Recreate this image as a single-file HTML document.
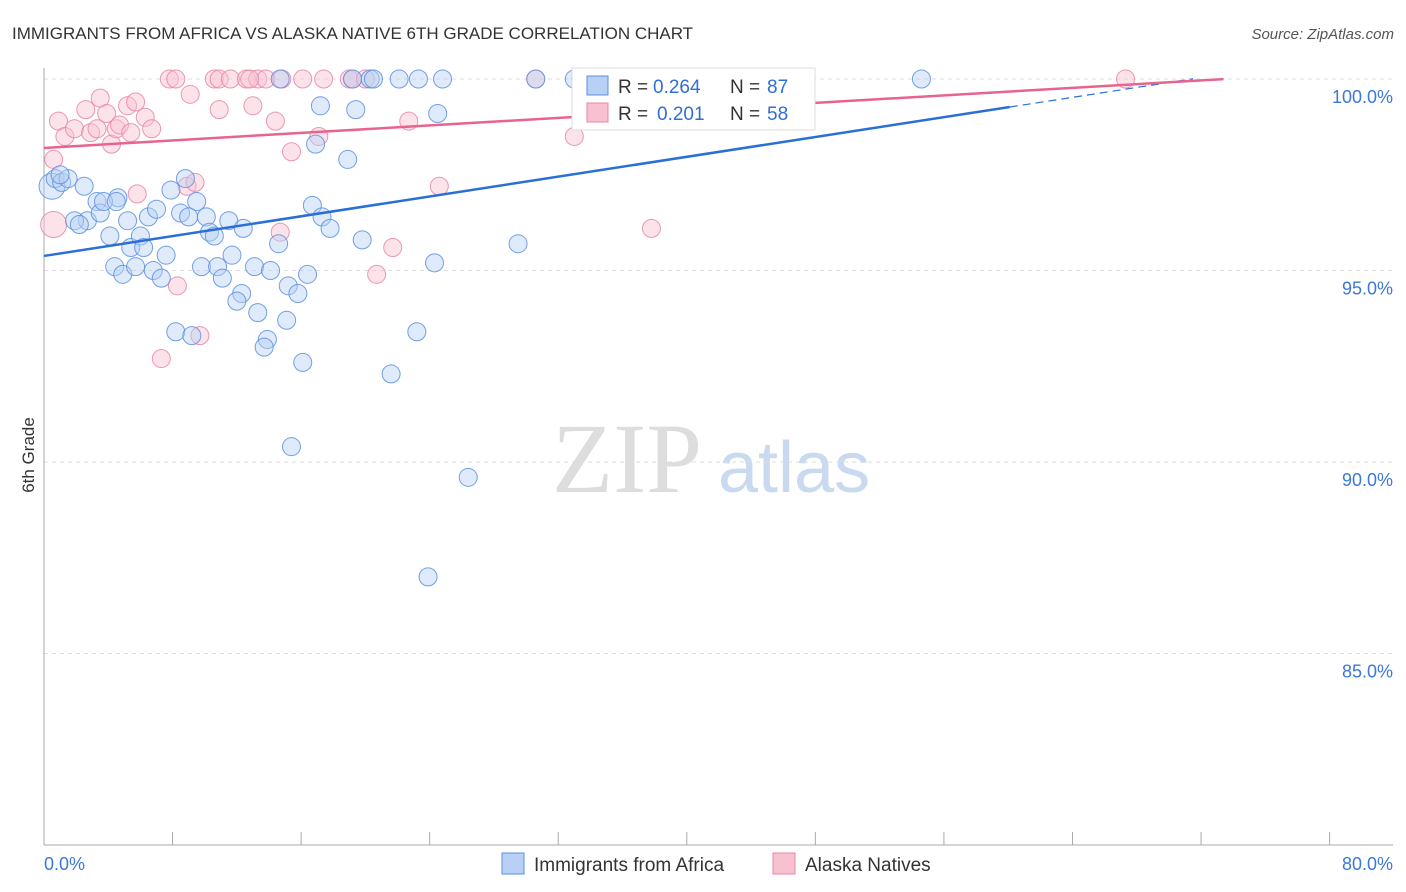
<!DOCTYPE html>
<html><head><meta charset="utf-8"><style>
body{margin:0;background:#fff;font-family:"Liberation Sans",sans-serif}
svg{display:block}
</style></head><body>
<svg id="c" width="1406" height="892">
<text x="12" y="39" font-size="17" fill="#333">IMMIGRANTS FROM AFRICA VS ALASKA NATIVE 6TH GRADE CORRELATION CHART</text>
<text x="1394" y="39" font-size="15" fill="#555" text-anchor="end" font-style="italic">Source: ZipAtlas.com</text>
<text x="34" y="455" font-size="17" fill="#333" transform="rotate(-90 34 455)" text-anchor="middle">6th Grade</text>
<g><text x="552" y="492" font-size="100" fill="#ddd" font-family="Liberation Serif,serif">ZIP</text><text x="718" y="492" font-size="72" fill="#c9d9f0">atlas</text></g>
<g id="grid"></g><g id="marks"></g><g id="lines"></g>
<g>
<rect x="572" y="68" width="243" height="62" fill="#fff" stroke="#ddd"/>
<rect x="587" y="76" width="21" height="19" fill="#b8d0f3" stroke="#5a8fe0"/>
<text x="618" y="93" font-size="19" fill="#333">R =</text><text x="653" y="93" font-size="19" fill="#2f6fd6">0.264</text>
<text x="730" y="93" font-size="19" fill="#333">N =</text><text x="767" y="93" font-size="19" fill="#2f6fd6">87</text>
<rect x="587" y="103" width="21" height="19" fill="#f8c1d0" stroke="#e886a4"/>
<text x="618" y="120" font-size="19" fill="#333">R =</text><text x="657" y="120" font-size="19" fill="#2f6fd6">0.201</text>
<text x="730" y="120" font-size="19" fill="#333">N =</text><text x="767" y="120" font-size="19" fill="#2f6fd6">58</text>
</g>
<g>
<rect x="502" y="853" width="22" height="21" fill="#b8d0f3" stroke="#5a8fe0"/>
<text x="534" y="871" font-size="19" fill="#333">Immigrants from Africa</text>
<rect x="773" y="853" width="22" height="21" fill="#f8c1d0" stroke="#e886a4"/>
<text x="805" y="871" font-size="19" fill="#333">Alaska Natives</text>
</g>
</svg>
<script>
const yTicks=[100,95,90,85];
const xTickVals=[0,8,16,24,32,40,48,56,64,72,80];
const blueX=[0.5,0.7,1.1,1.5,1.0,2.5,3.3,4.6,2.7,1.9,2.2,3.5,3.7,4.5,4.1,5.2,5.4,6.0,6.2,6.5,7.0,7.9,8.8,8.5,9.5,9.0,10.1,10.3,10.6,11.5,12.4,4.4,4.9,5.7,6.8,7.3,7.6,9.8,10.8,11.1,11.7,13.1,14.1,12.3,12.0,13.3,15.1,13.9,13.7,15.2,15.8,16.4,16.1,14.6,16.7,17.3,17.8,16.9,18.9,17.2,19.4,19.8,21.6,23.2,24.3,24.5,29.5,26.4,15.4,23.9,8.2,9.2,14.7,19.2,20.3,20.5,22.1,23.3,24.8,30.6,33.0,33.4,36.0,54.6];
const blueY=[97.2,97.4,97.3,97.4,97.5,97.2,96.8,96.9,96.3,96.3,96.2,96.5,96.8,96.8,95.9,96.3,95.6,95.9,95.6,96.4,96.6,97.1,97.4,96.5,96.8,96.4,96.4,96.0,95.9,96.3,96.1,95.1,94.9,95.1,95.0,94.8,95.4,95.1,95.1,94.8,95.4,95.1,95.0,94.4,94.2,93.9,93.7,93.2,93.0,94.6,94.4,94.9,92.6,95.7,96.7,96.4,96.1,98.3,97.9,99.3,99.2,95.8,92.3,93.4,95.2,99.1,95.7,89.6,90.4,87.0,93.4,93.3,100,100,100,100,100,100,100,100,100,100,100,100];
const pinkX=[0.6,0.6,0.9,1.3,1.9,2.6,2.9,3.3,3.5,3.9,4.2,4.5,4.7,5.2,5.4,5.7,6.3,6.7,5.8,7.3,8.3,8.9,9.4,9.7,9.1,10.9,13.0,14.4,15.4,14.7,17.1,21.7,20.7,22.7,24.6,33.0,37.8,7.8,8.2,10.6,10.9,11.6,12.6,13.3,13.8,14.8,16.1,17.4,19.0,19.2,20.0,30.6,41.6,44.9,67.3,12.8];
const pinkY=[96.2,97.9,98.9,98.5,98.7,99.2,98.6,98.7,99.5,99.1,98.3,98.7,98.8,99.3,98.6,99.4,99.0,98.7,97.0,92.7,94.6,97.2,97.3,93.3,99.6,99.2,99.3,98.9,98.1,96.0,98.5,95.6,94.9,98.9,97.2,98.5,96.1,100,100,100,100,100,100,100,100,100,100,100,100,100,100,100,100,100,100,100];
const blueTrend=[95.38,0.0647];const pinkTrend=[98.2,0.0245];
const X0=44,XS=16.07,Y0=79,YS=38.3;
const sx=v=>X0+v*XS, sy=v=>Y0+(100-v)*YS;
const NS="http://www.w3.org/2000/svg";
function mk(p,t,a){const e=document.createElementNS(NS,t);for(const k in a)e.setAttribute(k,a[k]);p.appendChild(e);return e;}
const grid=document.getElementById('grid'),marks=document.getElementById('marks'),lines=document.getElementById('lines');
yTicks.forEach(v=>{
 const l=mk(grid,'line',{x1:44,x2:1393,y1:sy(v),y2:sy(v),stroke:'#ddd','stroke-dasharray':'4,4'});
 
 
 const t=mk(grid,'text',{x:1393,y:sy(v)+24,'font-size':18,fill:'#3b78d8','text-anchor':'end'});
 t.textContent=v.toFixed(1)+'%';
 
 
});
const ax=mk(grid,'line',{x1:44,x2:44,y1:68,y2:845,stroke:'#aaa'});


const bx=mk(grid,'line',{x1:44,x2:1393,y1:845,y2:845,stroke:'#aaa'});


xTickVals.forEach(v=>{
 const l=mk(grid,'line',{x1:sx(v),x2:sx(v),y1:832,y2:845,stroke:'#aaa'});
 
 
});
const xl0=mk(grid,'text',{x:44,y:870,'font-size':18,fill:'#3b78d8'});xl0.textContent=xTickVals[0].toFixed(1)+'%';


const xl1=mk(grid,'text',{x:1393,y:870,'font-size':18,fill:'#3b78d8','text-anchor':'end'});xl1.textContent=xTickVals[xTickVals.length-1].toFixed(1)+'%';


function pts(X,Y,fill,stroke,name){X.forEach((x,i)=>{
 const big=i==0&&x<1;
 const c=mk(marks,'circle',{cx:sx(x),cy:sy(Y[i]),r:big?13:9,fill:fill,'fill-opacity':0.45,stroke:stroke,'stroke-width':1,'stroke-opacity':0.85});
 
 
});}
pts(pinkX,pinkY,'#f8c1d0','#e886a4','alaska-point');
pts(blueX,blueY,'#b8d0f3','#5a8fe0','africa-point');
function tl(tr,x1,x2,col,dash,name){const l=mk(lines,'line',{x1:sx(0+x1),y1:sy(tr[0]+tr[1]*x1),x2:sx(x2),y2:sy(tr[0]+tr[1]*x2),stroke:col,'stroke-width':dash?1.2:2.5,'stroke-dasharray':dash?'8,5':'none'});
 
 }
tl(blueTrend,0,60.1,'#2a6fd6',false,'africa-trend-line');
tl(blueTrend,60.1,71.5,'#2a6fd6',true,'africa-trend-extension');
tl(pinkTrend,0,73.4,'#e8638e',false,'alaska-trend-line');
</script>
</body></html>
